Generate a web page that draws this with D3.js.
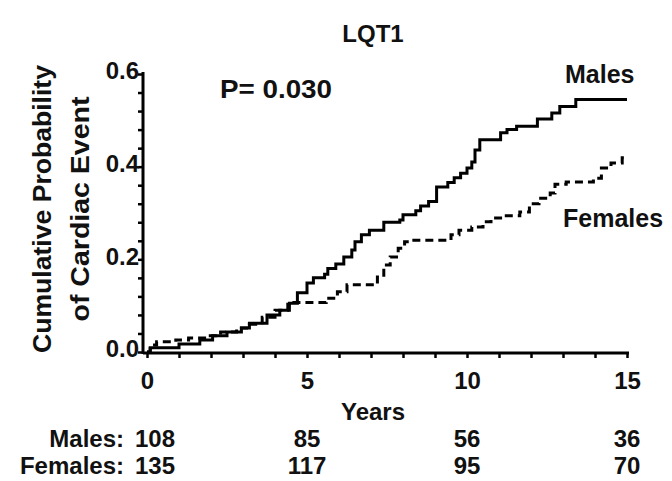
<!DOCTYPE html>
<html><head><meta charset="utf-8">
<script src="https://cdn.jsdelivr.net/npm/d3@7"></script>
<style>
body{margin:0;background:#fff;}
text{font-family:"Liberation Sans",Arial,sans-serif;font-weight:bold;fill:#111;}
</style></head><body>
<svg id="c" width="672" height="481"></svg>
<script>
// ---- data ----
const title = "LQT1";
const pValue = "P= 0.030";
const maleTimes  = [0,0.1,1.0,1.65,2.05,2.5,2.95,3.2,3.75,4.15,4.45,4.7,5.0,5.2,5.55,5.65,5.9,6.15,6.4,6.5,6.7,6.95,7.4,7.9,8.0,8.4,8.55,8.8,9.05,9.4,9.6,9.8,10.0,10.15,10.25,10.4,11.05,11.25,11.55,12.2,12.65,12.9,13.4,15];
const maleValues = [0,0.009,0.017,0.026,0.035,0.043,0.052,0.062,0.08,0.09,0.105,0.128,0.149,0.16,0.168,0.18,0.19,0.205,0.22,0.238,0.253,0.263,0.28,0.285,0.296,0.305,0.315,0.325,0.356,0.366,0.376,0.386,0.397,0.41,0.436,0.458,0.473,0.48,0.487,0.503,0.516,0.53,0.545,0.545];
const femaleTimes  = [0,0.1,0.3,0.9,1.3,1.8,2.3,2.8,3.2,3.6,4.0,4.4,5.6,5.95,6.25,7.2,7.4,7.6,7.85,8.05,8.2,9.5,9.75,10.15,10.5,10.75,11.15,11.65,11.95,12.25,12.6,12.75,13.1,13.95,14.2,14.5,14.85,15];
const femaleValues = [0,0.015,0.022,0.026,0.03,0.035,0.043,0.052,0.06,0.075,0.09,0.107,0.116,0.13,0.145,0.162,0.188,0.205,0.224,0.238,0.241,0.253,0.263,0.27,0.281,0.289,0.294,0.302,0.32,0.332,0.343,0.362,0.367,0.375,0.397,0.408,0.419,0.419];
const xTicks = [0,5,10,15];
const yTicks = [0,0.2,0.4,0.6];
const riskYears = [0,5,10,15];
const malesAtRisk = [108,85,56,36];
const femalesAtRisk = [135,117,95,70];

// ---- layout ----
const svg = d3.select("#c");
const x = d3.scaleLinear().domain([0,15]).range([147,627]);
const y = d3.scaleLinear().domain([0,0.6]).range([352,74]);

// axes
const xAxis = d3.axisBottom(x).tickValues(d3.range(0,16,1)).tickSize(5).tickPadding(14)
  .tickFormat(d => xTicks.includes(d) ? d : "");
const gx = svg.append("g").attr("transform","translate(0,353)").call(xAxis);
gx.select(".domain").attr("d","M143,0H629").attr("stroke","#000").attr("stroke-width",3);
gx.selectAll(".tick line").attr("stroke","#000").attr("stroke-width",2.5);
gx.selectAll(".tick text").attr("font-size",24).attr("fill","#111");

const yAxis = d3.axisLeft(y).tickValues(d3.range(0,16).map(i=>+(i*0.04).toFixed(2))).tickSize(5).tickPadding(-1)
  .tickFormat(d => yTicks.some(t=>Math.abs(t-d)<1e-6) ? d3.format(".1f")(d) : "");
const gy = svg.append("g").attr("transform","translate(143,0)").call(yAxis);
gy.select(".domain").attr("d","M0,72V354").attr("stroke","#000").attr("stroke-width",3);
gy.selectAll(".tick line").attr("stroke","#000").attr("stroke-width",2.5);
gy.selectAll(".tick text").attr("font-size",24).attr("fill","#111").attr("dy","0.2em");

// curves
const line = d3.line().curve(d3.curveStepAfter).x(d=>x(d[0])).y(d=>y(d[1]));
svg.append("path").datum(d3.zip(maleTimes,maleValues)).attr("d",line)
  .attr("fill","none").attr("stroke","#000").attr("stroke-width",3);
svg.append("path").datum(d3.zip(femaleTimes,femaleValues)).attr("d",line)
  .attr("fill","none").attr("stroke","#000").attr("stroke-width",3).attr("stroke-dasharray","8,5");

// texts
svg.append("text").attr("x",373).attr("y",42).attr("text-anchor","middle").attr("font-size",24).text(title);
svg.append("text").attr("x",220).attr("y",98).attr("font-size",25).attr("textLength",112).attr("lengthAdjust","spacingAndGlyphs").text(pValue);
svg.append("text").attr("x",565).attr("y",83).attr("font-size",25).text("Males");
svg.append("text").attr("x",563).attr("y",227).attr("font-size",25).text("Females");
svg.append("text").attr("x",373).attr("y",420).attr("text-anchor","middle").attr("font-size",24).text("Years");

const yl = svg.append("g").attr("transform","translate(0,209) rotate(-90)");
yl.append("text").attr("x",0).attr("y",51).attr("text-anchor","middle").attr("font-size",25)
  .attr("textLength",288).attr("lengthAdjust","spacingAndGlyphs").text("Cumulative Probability");
yl.append("text").attr("x",0).attr("y",89).attr("text-anchor","middle").attr("font-size",25)
  .attr("textLength",225).attr("lengthAdjust","spacingAndGlyphs").text("of Cardiac Event");

// numbers at risk
svg.append("text").attr("x",124).attr("y",447).attr("text-anchor","end").attr("font-size",24).text("Males:");
svg.append("text").attr("x",124).attr("y",474).attr("text-anchor","end").attr("font-size",24).text("Females:");
const rx = (d,i) => i===0 ? x(d)+8 : x(d);
svg.selectAll("text.m").data(riskYears).join("text").attr("class","m")
  .attr("x",rx).attr("y",447).attr("text-anchor","middle").attr("font-size",24).text((d,i)=>malesAtRisk[i]);
svg.selectAll("text.f").data(riskYears).join("text").attr("class","f")
  .attr("x",rx).attr("y",474).attr("text-anchor","middle").attr("font-size",24).text((d,i)=>femalesAtRisk[i]);
</script></body></html>
